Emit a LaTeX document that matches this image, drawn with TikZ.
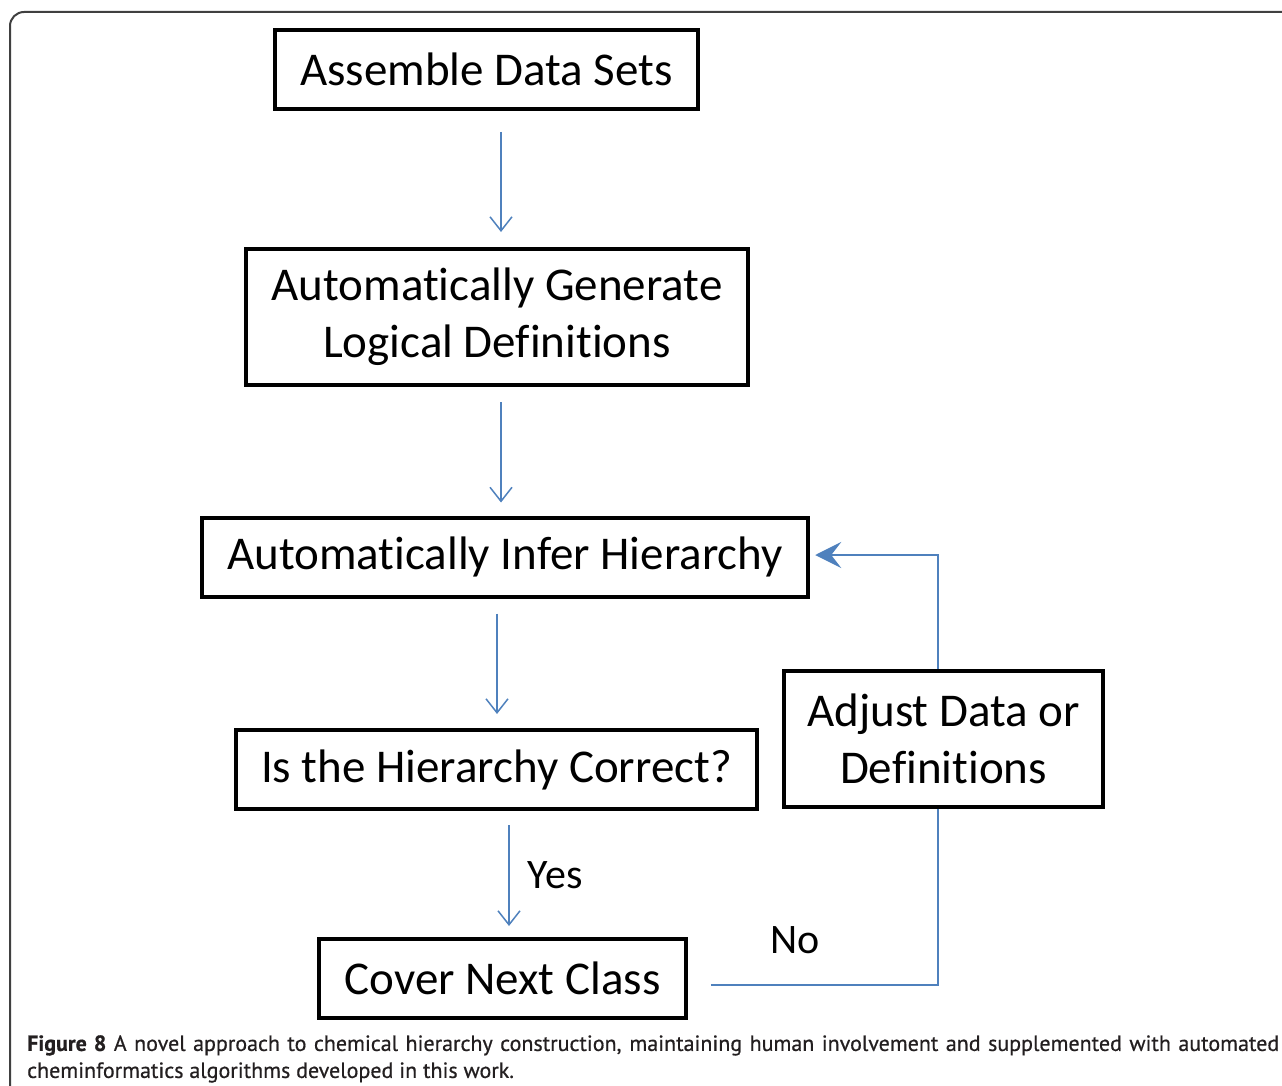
\documentclass[tikz,border=0pt]{standalone}
\usepackage{fontspec}
\setmainfont{Carlito}[Ligatures=NoCommon]
\newfontfamily\capfont{PT Sans}[FakeBold=0.6]
\usetikzlibrary{arrows.meta,calc}
\definecolor{flowblue}{RGB}{79,129,189}
\definecolor{capgray}{RGB}{35,31,32}

\begin{document}
\begin{tikzpicture}[x=1pt,y=-1pt]
			\tikzset{>={Straight Barb[length=14pt,width=22pt]}}
			\tikzset{box/.style={draw,line width=4pt,align=center,inner xsep=25.5pt,minimum height=79pt,font=\fontsize{47}{57}\selectfont},
				flow/.style={->,flowblue,line width=1.5pt},
				lbl/.style={font=\fontsize{42}{50}\selectfont}}
			\useasboundingbox (0,0) rectangle (1282,1086);
			\draw[line width=2pt,black!75] (10,1086) -- (10,26) arc[start angle=180,end angle=270,radius=14] -- (1282,12);

			\node[box] (assemble) at (486.5,69.5) {Assemble Data Sets};
			\node[box,minimum height=136pt] (generate) at (497,317) {Automatically Generate\\Logical Definitions};
			\node[box] (infer) at (505,557) {Automatically Infer Hierarchy};
			\node[box] (correct) at (496.5,769.5) {Is the Hierarchy Correct?};
			\node[box] (cover) at (502.5,978.5) {Cover Next Class};
			\node[box,minimum height=136pt,inner xsep=23pt] (adjust) at (943.5,739) {Adjust Data or\\Definitions};

			\draw[flow,shorten <=21pt,shorten >=15pt] ([xshift=14.5pt]assemble.south) -- ([xshift=4pt]generate.north);
			\draw[flow,shorten <=15pt,shorten >=13pt] ([xshift=4pt]generate.south) -- ([xshift=-4pt]infer.north);
			\draw[flow,shorten <=15pt,shorten >=14pt] ([xshift=-8pt]infer.south) -- ([xshift=0.5pt]correct.north);
			\draw[flow,shorten <=14pt,shorten >=11pt] ([xshift=12.5pt]correct.south) -- ([xshift=6.5pt]cover.north);
			\node[lbl] (yes) at (555,875) {Yes};

			% the no branch back up to the hierarchy
			\draw[flowblue,line width=1.5pt,shorten <=23pt] ([yshift=-6.5pt]cover.east) -| ([xshift=-5.5pt]adjust.south);
			\draw[flowblue,line width=1.5pt,-{Stealth[length=26pt,width=26pt,inset=10pt]},shorten >=5pt] ([xshift=-5.5pt]adjust.north) |- ([yshift=2pt]infer.east);
			\node[lbl] (no) at (795,940) {No};

			\node[anchor=north west,text width=1252pt,align=justify,inner sep=0pt,text=capgray,font=\capfont\fontsize{22}{27}\selectfont] (caption) at (27,1035)
				{\textbf{Figure 8} A novel approach to chemical hierarchy construction, maintaining human involvement and supplemented with automated cheminformatics algorithms developed in this work.};
		\end{tikzpicture}
\end{document}
